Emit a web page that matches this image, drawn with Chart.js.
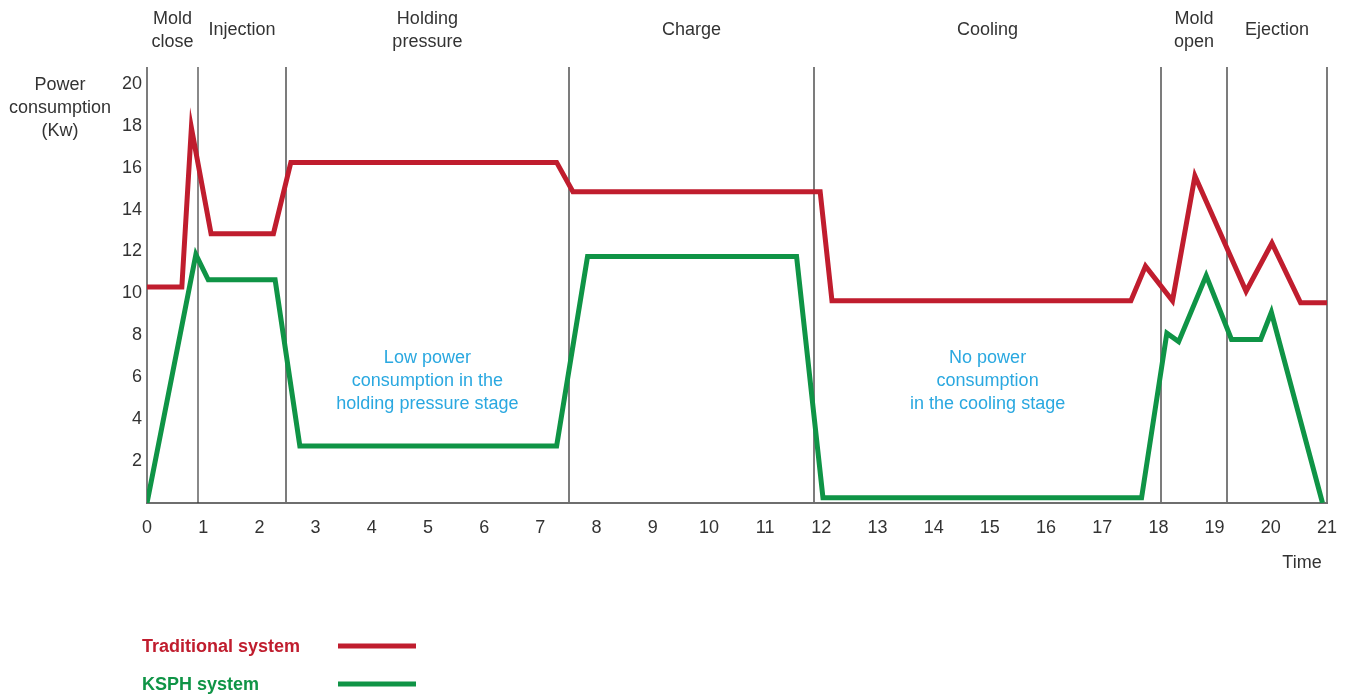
<!DOCTYPE html>
<html>
<head>
<meta charset="utf-8">
<style>
  html, body { margin: 0; padding: 0; background: #ffffff; }
  #wrap { position: relative; width: 1348px; height: 694px; }
</style>
<script src="https://cdn.jsdelivr.net/npm/chart.js@4.4.1/dist/chart.umd.min.js"></script>
</head>
<body>
<div id="wrap"><canvas id="chart" width="1348" height="694"></canvas></div>
<script>
// Cycle time (s) and power draw (kW) for each system
const timeTraditional  = [0, 0.62, 0.79, 1.14, 2.25, 2.56, 7.29, 7.58, 11.98, 12.19, 17.51, 17.77, 18.25, 18.65, 19.56, 20.02, 20.53, 21];
const powerTraditional = [10.3, 10.3, 17.9, 12.85, 12.85, 16.25, 16.25, 14.85, 14.85, 9.65, 9.65, 11.3, 9.65, 15.6, 10.1, 12.4, 9.55, 9.55];
const timeKsph  = [0, 0.87, 1.09, 2.28, 2.72, 7.29, 7.84, 11.56, 12.03, 17.7, 18.15, 18.36, 18.85, 19.3, 19.82, 20.01, 20.92];
const powerKsph = [0, 11.85, 10.65, 10.65, 2.72, 2.72, 11.76, 11.76, 0.25, 0.25, 8.1, 7.7, 10.85, 7.8, 7.8, 9.1, 0];

// Stage boundaries along the time axis and their names
const stageBounds = [0, 0.91, 2.47, 7.51, 11.87, 18.05, 19.22, 21];
const stageNames = [["Mold", "close"], ["Injection"], ["Holding", "pressure"], ["Charge"], ["Cooling"], ["Mold", "open"], ["Ejection"]];

const xTicks = [0,1,2,3,4,5,6,7,8,9,10,11,12,13,14,15,16,17,18,19,20,21];
const yTicks = [2,4,6,8,10,12,14,16,18,20];

const seriesNames = ["Traditional system", "KSPH system"];
const notes = [
  { stage: 2, lines: ["Low power", "consumption in the", "holding pressure stage"] },
  { stage: 4, lines: ["No power", "consumption", "in the cooling stage"] }
];

const RED = "#c01d2e";
const GREEN = "#0f9446";
const BLUE = "#2aa8e0";
const TEXT = "#333333";
const FONT = "'Liberation Sans', Arial, sans-serif";

const toPoints = (xs, ys) => xs.map((x, i) => ({ x: x, y: ys[i] }));

const decorations = {
  id: "decorations",
  beforeDatasetsDraw(chart) {
    const { ctx, chartArea, scales } = chart;
    const xs = scales.x;
    ctx.save();
    stageBounds.forEach((b, i) => {
      const px = Math.round(xs.getPixelForValue(b));
      ctx.beginPath();
      ctx.strokeStyle = (i === 1) ? "#3a3a3a" : "#6e6e6e";
      ctx.lineWidth = (i === 1) ? 1.2 : 1.8;
      ctx.moveTo(px, chartArea.top);
      ctx.lineTo(px, chartArea.bottom);
      ctx.stroke();
    });
    ctx.restore();
  },
  afterDraw(chart) {
    const { ctx, scales } = chart;
    const xs = scales.x;
    ctx.save();
    ctx.textAlign = "center";
    ctx.textBaseline = "middle";
    ctx.font = "18px " + FONT;
    ctx.fillStyle = TEXT;
    // stage names above the plot
    stageNames.forEach((lines, i) => {
      const cx = xs.getPixelForValue((stageBounds[i] + stageBounds[i + 1]) / 2);
      if (lines.length === 1) {
        ctx.fillText(lines[0], cx, 30);
      } else {
        ctx.fillText(lines[0], cx, 19);
        ctx.fillText(lines[1], cx, 42);
      }
    });
    // y axis title
    ["Power", "consumption", "(Kw)"].forEach((t, i) => ctx.fillText(t, 60, 85 + i * 23));
    // x axis title
    ctx.fillText("Time", 1302, 563);
    // stage notes
    ctx.fillStyle = BLUE;
    notes.forEach(n => {
      const cx = xs.getPixelForValue((stageBounds[n.stage] + stageBounds[n.stage + 1]) / 2);
      n.lines.forEach((t, i) => ctx.fillText(t, cx, 358 + i * 23));
    });
    // legend
    chart.data.datasets.forEach((d, i) => {
      const y = 647 + i * 38;
      ctx.textAlign = "left";
      ctx.font = "bold 18px " + FONT;
      ctx.fillStyle = d.borderColor;
      ctx.fillText(d.label, 142, y);
      ctx.beginPath();
      ctx.strokeStyle = d.borderColor;
      ctx.lineWidth = 5;
      ctx.moveTo(338, y - 1);
      ctx.lineTo(416, y - 1);
      ctx.stroke();
    });
    ctx.restore();
  }
};

new Chart(document.getElementById("chart"), {
  type: "line",
  data: {
    datasets: [
      { label: seriesNames[0], data: toPoints(timeTraditional, powerTraditional), borderColor: RED },
      { label: seriesNames[1], data: toPoints(timeKsph, powerKsph), borderColor: GREEN }
    ]
  },
  options: {
    responsive: false,
    animation: false,
    devicePixelRatio: 1,
    layout: { padding: { left: 0, right: 21, top: 67, bottom: 151 } },
    elements: {
      line: { borderWidth: 5, tension: 0, borderJoinStyle: "miter", borderCapStyle: "butt", fill: false },
      point: { radius: 0, hoverRadius: 0 }
    },
    plugins: { legend: { display: false }, tooltip: { enabled: false } },
    scales: {
      x: {
        type: "linear",
        min: 0,
        max: 21,
        afterFit: s => { s.height = 40; s.paddingLeft = 0; s.paddingRight = 0; },
        afterBuildTicks: s => { s.ticks = xTicks.map(v => ({ value: v })); },
        grid: { display: false, drawTicks: false },
        border: { display: true, color: "#6e6e6e", width: 2 },
        ticks: { padding: 14, maxRotation: 0, autoSkip: false, color: TEXT, font: { family: FONT, size: 18 } }
      },
      y: {
        min: 0,
        max: 20.8,
        afterFit: s => { s.width = 147; s.paddingTop = 0; s.paddingBottom = 0; },
        afterBuildTicks: s => { s.ticks = yTicks.map(v => ({ value: v })); },
        grid: { display: false, drawTicks: false },
        border: { display: false },
        ticks: { padding: 5, color: TEXT, font: { family: FONT, size: 18 } }
      }
    }
  },
  plugins: [decorations]
});
</script>
</body>
</html>
